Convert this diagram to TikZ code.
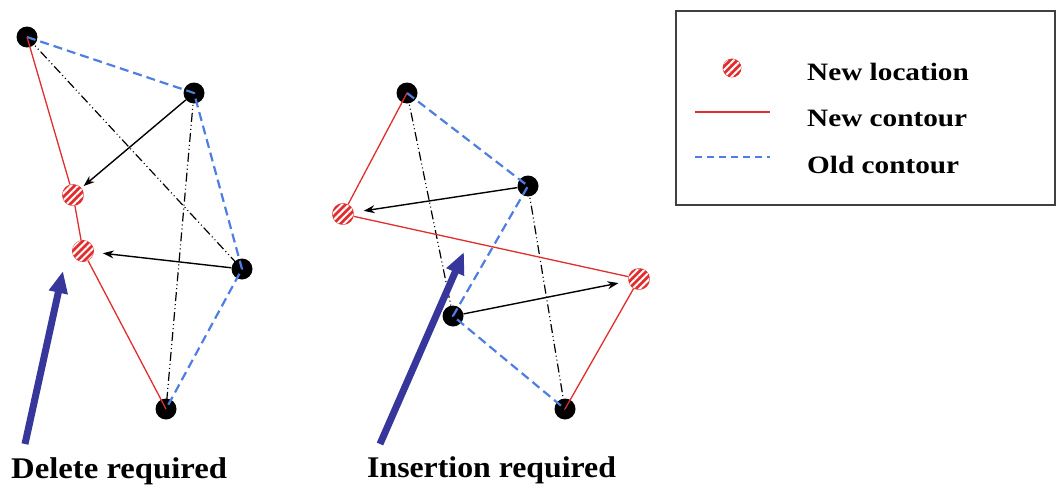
\documentclass[tikz,border=0pt]{standalone}
\usepackage{fontspec}
\setmainfont{Liberation Serif}
\usetikzlibrary{arrows.meta, patterns.meta}

\definecolor{newred}{RGB}{225,45,45}
\definecolor{oldblue}{RGB}{80,125,225}
\definecolor{hintblue}{RGB}{55,55,155}

\newcommand{\lbltext}[2]{\scalebox{#1}[1]{\bfseries #2}}

\begin{document}
\begin{tikzpicture}[x=1pt,y=-1pt,
  dot/.style={circle,fill=black,inner sep=0pt,minimum size=21pt},
  newloc/.style={circle,draw=newred,line width=0.8pt,fill=newred,
    postaction={pattern={Lines[angle=45,distance=5pt,line width=2pt]},pattern color=white},
    inner sep=0pt,minimum size=21pt},
  newcont/.style={newred,line width=1.3pt},
  oldcont/.style={oldblue,line width=2.2pt,dash pattern=on 9pt off 5pt},
  diag/.style={black,line width=1.2pt,dash pattern=on 9pt off 3pt on 1pt off 3pt on 1pt off 3pt},
  move/.style={-{Stealth[length=11pt,width=8pt]},black,line width=1.4pt},
  hint/.style={-{Triangle[length=22pt,width=18pt]},hintblue,line width=7pt},
  lbl/.style={font=\fontsize{30}{32}\selectfont,anchor=base west,inner sep=0pt},
  keytext/.style={font=\fontsize{25}{28}\selectfont,anchor=base west,inner sep=0pt}]
\useasboundingbox (0,0) rectangle (1058,490);

\node[dot] (a1) at (27,37) {};
\node[dot] (a2) at (194,93) {};
\node[dot] (a3) at (242,269) {};
\node[dot] (a4) at (166,409) {};
\node[newloc] (an1) at (73,195) {};
\node[newloc] (an2) at (83,251) {};

\draw[diag] (a1.center) -- (a3.center);
\draw[diag] (a2.center) -- (a4.center);
\draw[oldcont] (a1.center) -- (a2.center) -- (a3.center) -- (a4.center);
\draw[newcont] (a1.center) -- (an1) -- (an2) -- (a4.center);
\draw[move,shorten >=3pt] (a2) -- (an1);
\draw[move,shorten >=9pt] (a3) -- (an2);

\node[dot] (b1) at (407,93) {};
\node[dot] (b2) at (528,186) {};
\node[dot] (b3) at (453,316) {};
\node[dot] (b4) at (565,409) {};
\node[newloc] (bn1) at (343,214) {};
\node[newloc] (bn2) at (639,279) {};

\draw[diag] (b1.center) -- (b3.center);
\draw[diag] (b2.center) -- (b4.center);
\draw[oldcont] (b1.center) -- (b2.center) -- (b3.center) -- (b4.center);
\draw[newcont] (b1.center) -- (bn1) -- (bn2) -- (b4.center);
\draw[move,shorten >=10pt] (b2) -- (bn1);
\draw[move,shorten >=10pt] (b3) -- (bn2);

\coordinate (dtail) at (25,444);
\coordinate (dtip) at (63,271);
\coordinate (itail) at (380,444);
\coordinate (itip) at (464,252);
\draw[hint] (dtail) -- (dtip);
\draw[hint] (itail) -- (itip);

\node[lbl] (dellbl) at (11,478) {\lbltext{1.09}{Delete required}};
\node[lbl] (inslbl) at (367,477) {\lbltext{1.06}{Insertion required}};

\node[draw=black!75,line width=1.5pt,minimum width=379pt,minimum height=194pt,
  inner sep=0pt] (legend) at (865.5,108) {};
\node[newloc,minimum size=18pt] (keyloc) at (732,68) {};
\coordinate (keyredA) at (695,112);
\coordinate (keyredB) at (770,112);
\coordinate (keyblueA) at (695,157);
\coordinate (keyblueB) at (770,157);
\draw[newcont] (keyredA) -- (keyredB);
\draw[oldcont,dash pattern=on 7pt off 5pt] (keyblueA) -- (keyblueB);
\node[keytext] (keylocl) at (807,80) {\lbltext{1.17}{New location}};
\node[keytext] (keyredl) at (807,126) {\lbltext{1.17}{New contour}};
\node[keytext] (keybluel) at (807,173) {\lbltext{1.17}{Old contour}};
\end{tikzpicture}
\end{document}
